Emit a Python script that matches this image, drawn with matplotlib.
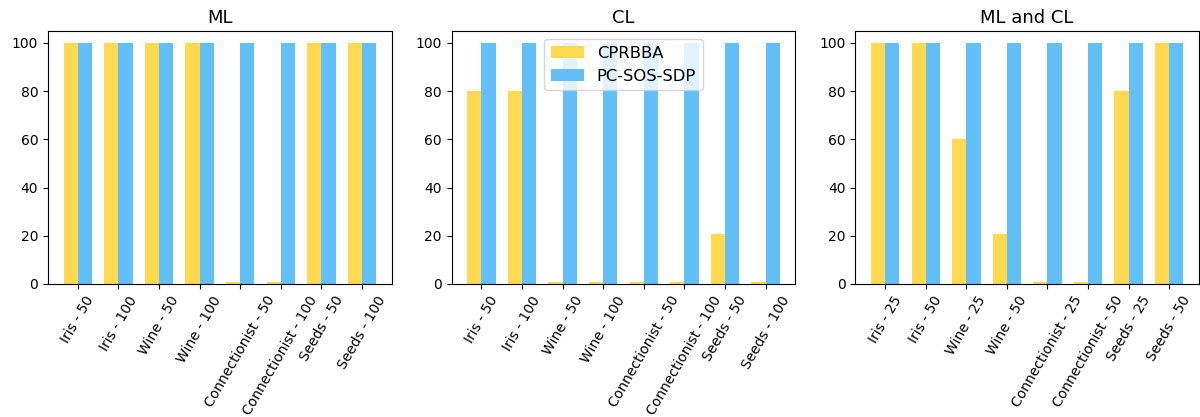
import numpy as np
import matplotlib
matplotlib.use('Agg')
import matplotlib.pyplot as plt

labels_ml = ['Iris - 50', 'Iris - 100', 'Wine - 50', 'Wine - 100',
             'Connectionist - 50', 'Connectionist - 100', 'Seeds - 50', 'Seeds - 100']
labels_cl = labels_ml
labels_mlcl = ['Iris - 25', 'Iris - 50', 'Wine - 25', 'Wine - 50',
               'Connectionist - 25', 'Connectionist - 50', 'Seeds - 25', 'Seeds - 50']

cprbba_ml = [100, 100, 100, 100, 1, 1, 100, 100]
pcsos_ml = [100, 100, 100, 100, 100, 100, 100, 100]
cprbba_cl = [80, 80, 1, 1, 1, 1, 20.8, 1]
pcsos_cl = [100, 100, 100, 100, 100, 100, 100, 100]
cprbba_mlcl = [100, 100, 60, 20.8, 1, 1, 80, 100]
pcsos_mlcl = [100, 100, 100, 100, 100, 100, 100, 100]

YELLOW = '#ffd94f'
BLUE = '#63bff8'
width = 0.35


def draw_panel(ax, title, labels, a, b, legend=False):
    x = np.arange(len(labels))
    ax.bar(x - width / 2, a, width, color=YELLOW, label='CPRBBA')
    ax.bar(x + width / 2, b, width, color=BLUE, label='PC-SOS-SDP')
    ax.set_title(title, fontsize=13)
    ax.set_xticks(x)
    ax.set_xticklabels(labels, rotation=60)
    ax.tick_params(labelsize=10)
    if legend:
        ax.legend(loc='upper center', fontsize=11.8)


fig, axes = plt.subplots(1, 3, figsize=(12, 4.17), dpi=100)
draw_panel(axes[0], 'ML', labels_ml, cprbba_ml, pcsos_ml)
draw_panel(axes[1], 'CL', labels_cl, cprbba_cl, pcsos_cl, legend=True)
draw_panel(axes[2], 'ML and CL', labels_mlcl, cprbba_mlcl, pcsos_mlcl)

fig.subplots_adjust(left=0.04, right=0.9992, bottom=0.319, top=0.926, wspace=0.1744)
fig.savefig('out.png', dpi=100)
